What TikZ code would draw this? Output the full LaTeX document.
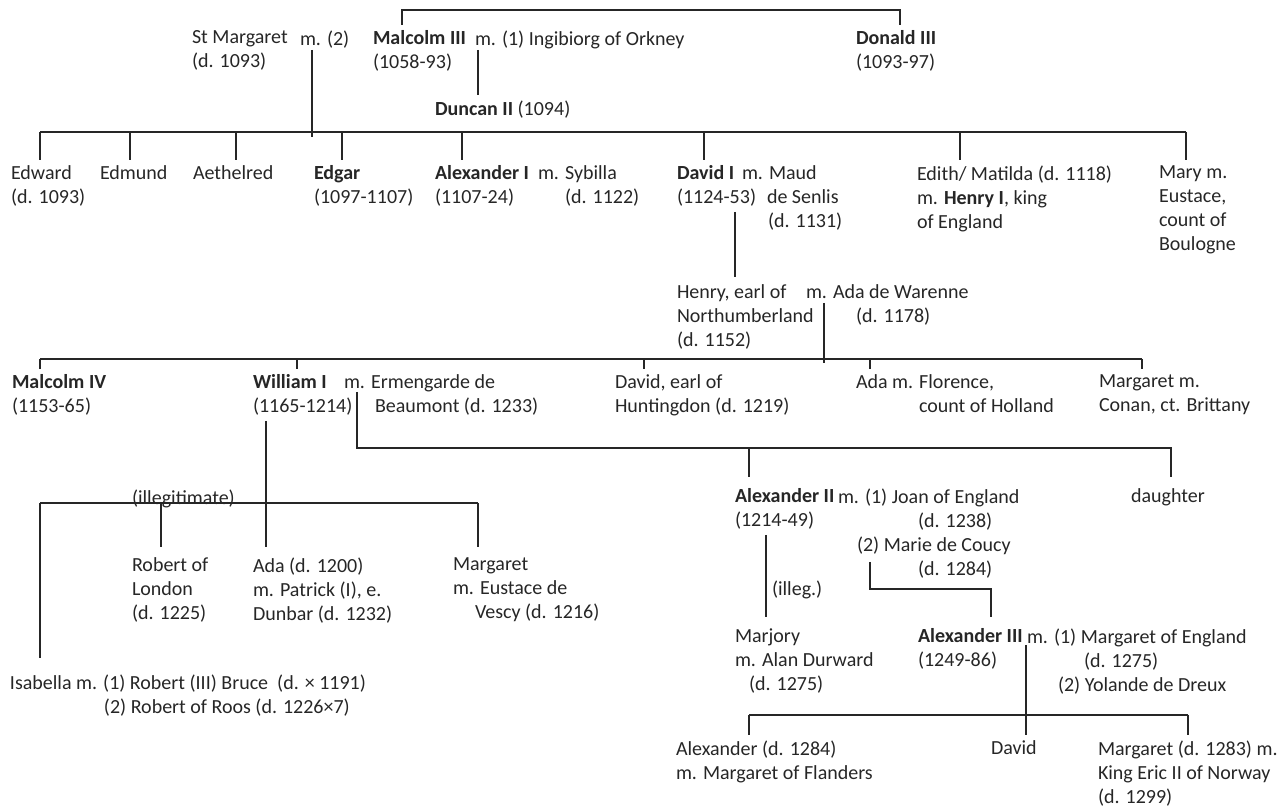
\documentclass[tikz,border=0pt]{standalone}
\usepackage{fontspec}
\setmainfont{Carlito}
\usetikzlibrary{positioning}

\begin{document}
\begin{tikzpicture}[x=0.5pt,y=-0.5pt,
    kin/.style={anchor=north west,inner sep=0pt,outer xsep=0pt,outer ysep=2.75pt,
      align=left,font=\fontsize{10}{12}\selectfont,text=black!85},
    link/.style={draw=black!85,line width=0.8pt}]

  \useasboundingbox (0,0) rectangle (1286,806);

  % Malcolm III, his brother and his wives
  \path (192,25) node(smarg) [kin] {St Margaret\\(d. 1093)}
  (300,25) node(m2) [kin] {m. (2)}
  (373,25) node(mal3) [kin] {\textbf{Malcolm III}\\(1058-93)}
  (475,25) node(ingi) [kin] {m. (1) Ingibiorg of Orkney}
  (856,25) node(don3) [kin] {\textbf{Donald III}\\(1093-97)}
  (435,95) node(dun2) [kin] {\textbf{Duncan II} (1094)};

  % children of Malcolm III and Margaret
  \path (11,160) node(edw) [kin] {Edward\\(d. 1093)}
  (100,160) node(edm) [kin] {Edmund}
  (193,160) node(aeth) [kin] {Aethelred}
  (314,160) node(edg) [kin] {\textbf{Edgar}\\(1097-1107)}
  (435,160) node(alx1) [kin] {\textbf{Alexander I}\\(1107-24)}
  (538,160) node(syb) [kin] {m. Sybilla\\\hspace*{13.5pt}(d. 1122)}
  (677,160) node(dav1) [kin] {\textbf{David I}\\(1124-53)}
  (742,160) node(maud) [kin] {m. Maud\\\hspace*{12.5pt}de Senlis\\\hspace*{13pt}(d. 1131)}
  (917,160) node(edith) [kin] {Edith/ Matilda (d. 1118)\\m. \textbf{Henry I}, king\\of England}
  (1159,160) node(mary) [kin] {Mary m.\\Eustace,\\count of\\Boulogne};

  \path (677,279) node(henry) [kin] {Henry, earl of\\Northumberland\\(d. 1152)}
  (806,279) node(ada) [kin] {m. Ada de Warenne\\\hspace*{25pt}(d. 1178)};

  % grandchildren of David I
  \path (12,369) node(mal4) [kin] {\textbf{Malcolm IV}\\(1153-65)}
  (253,369) node(wil1) [kin] {\textbf{William I}\\(1165-1214)}
  (344,369) node(erm) [kin] {m. Ermengarde de\\\hspace*{15.5pt}Beaumont (d. 1233)}
  (615,369) node(davh) [kin] {David, earl of\\Huntingdon (d. 1219)}
  (856,369) node(adaf) [kin] {Ada m. Florence,\\\hspace*{31.5pt}count of Holland}
  (1099,369) node(margc) [kin] {Margaret m.\\Conan, ct. Brittany};

  % children of William I
  \path (132,484) node(illeg1) [kin] {(illegitimate)}
  (132,552) node(robl) [kin] {Robert of\\London\\(d. 1225)}
  (253,552) node(adad) [kin] {Ada (d. 1200)\\m. Patrick (I), e.\\Dunbar (d. 1232)}
  (453,552) node(margv) [kin] {Margaret\\m. Eustace de\\\hspace*{11pt}Vescy (d. 1216)}
  (10,669) node(isab) [kin] {Isabella m. (1) Robert (III) Bruce~ (d. × 1191)\\\hspace*{47pt}(2) Robert of Roos (d. 1226×7)}
  (735,483) node(alx2) [kin] {\textbf{Alexander II}\\(1214-49)}
  (838,483) node(joan) [kin] {m. (1) Joan of England\\\hspace*{40pt}(d. 1238)}
  (857,531) node(marie) [kin] {(2) Marie de Coucy\\\hspace*{30.5pt}(d. 1284)}
  (1131,483) node(daugh) [kin] {daughter};

  % Alexander II's line
  \path (772,575) node(illeg2) [kin] {(illeg.)}
  (735,623) node(marj) [kin] {Marjory\\m. Alan Durward\\\hspace*{7pt}(d. 1275)}
  (918,623) node(alx3) [kin] {\textbf{Alexander III}\\(1249-86)}
  (1027,623) node(margE) [kin] {m. (1) Margaret of England\\\hspace*{28.5pt}(d. 1275)\\\hspace*{15.5pt}(2) Yolande de Dreux}
  (676,735.5) node(alx) [kin] {Alexander (d. 1284)\\m. Margaret of Flanders}
  (991,735.5) node(dav) [kin] {David}
  (1098,735.5) node(margN) [kin] {Margaret (d. 1283) m.\\King Eric II of Norway\\(d. 1299)};

  \coordinate (busA) at (40,132);
  \coordinate (busD) at (40,359);
  \coordinate (busE) at (40,503);
  \coordinate (busH) at (749,715);

  \draw[link] (mal3.north -| 402,0) -- (402,10) -| (don3.north -| 900,0);
  \draw[link] (m2.north -| 312,0) ++(0,25) -- (312,137);
  \draw[link] (ingi.north -| 478,0) ++(0,25) -- (dun2.north -| 478,0);

  \draw[link] (busA) -- (1186,0 |- busA);
  \foreach \x/\n in {40/edw,130/edm,236/aeth,342/edg,462/alx1,704/dav1,960/edith,1186/mary}
    \draw[link] (\x,0 |- busA) -- (\n.north -| \x,0);

  \draw[link,shorten >=1pt] (dav1.south -| 735,0) -- (henry.north -| 735,0);
  \draw[link] (ada.north -| 824,0) ++(0,24) -- (824,363);

  \draw[link] (busD) -- (1142,0 |- busD);
  \foreach \x/\n in {40/mal4,297/wil1,644/davh,870/adaf,1142/margc}
    \draw[link] (\x,0 |- busD) -- (\n.north -| \x,0);

  \draw[link,shorten >=3pt] (erm.north -| 357,0) ++(0,23) |- (1171,448) -- (daugh.north -| 1171,0);
  \draw[link,shorten >=3pt] (749,448) -- (alx2.north -| 749,0);

  \draw[link,shorten >=2.5pt] (wil1.south -| 266,0) -- (adad.north -| 266,0);
  \draw[link] (busE) -- (478,0 |- busE);
  \draw[link,shorten >=5.5pt] (busE) -- (isab.north -| 40,0);
  \foreach \x/\n in {161/robl,478/margv}
    \draw[link,shorten >=2.5pt] (\x,0 |- busE) -- (\n.north -| \x,0);

  \draw[link,shorten >=3pt] (alx2.south -| 766,0) -- (marj.north -| 766,0);
  \draw[link,shorten >=3pt] (marie.north -| 870,0) ++(0,31) |- (991,589) -- (alx3.north -| 991,0);
  \draw[link] (margE.north -| 1026,0) ++(0,22) -- (dav.north -| 1026,0);

  \draw[link] (busH) -- (1188,0 |- busH);
  \foreach \x/\n in {749/alx,1188/margN}
    \draw[link] (\x,0 |- busH) -- (\n.north -| \x,0);

\end{tikzpicture}
\end{document}
